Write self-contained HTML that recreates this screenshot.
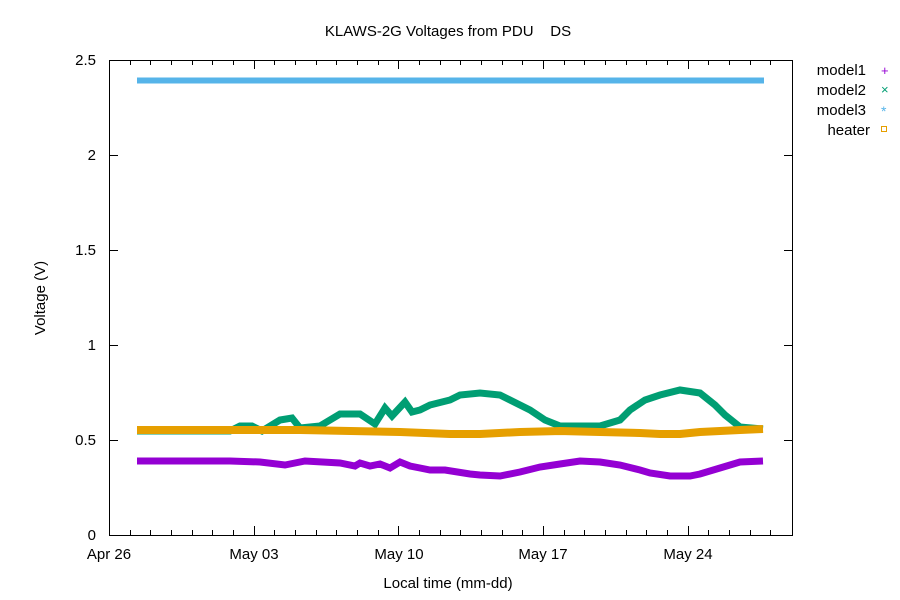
<!DOCTYPE html>
<html><head><style>body{margin:0;background:#fff}svg{display:block;font-family:"Liberation Sans",sans-serif}</style></head><body>
<svg width="900" height="600" viewBox="0 0 900 600">
<rect x="109.5" y="60.5" width="683" height="475" fill="none" stroke="#000"/>
<g stroke="#000">
<line x1="109" y1="535.5" x2="118" y2="535.5"/><line x1="109" y1="440.5" x2="118" y2="440.5"/><line x1="109" y1="345.5" x2="118" y2="345.5"/><line x1="109" y1="250.5" x2="118" y2="250.5"/><line x1="109" y1="155.5" x2="118" y2="155.5"/><line x1="109" y1="60.5" x2="118" y2="60.5"/>
<line x1="784" y1="440.5" x2="793" y2="440.5"/><line x1="784" y1="345.5" x2="793" y2="345.5"/><line x1="784" y1="250.5" x2="793" y2="250.5"/><line x1="784" y1="155.5" x2="793" y2="155.5"/>
<path d="M130.5 535v-5M150.5 535v-5M171.5 535v-5M192.5 535v-5M212.5 535v-5M233.5 535v-5M254.5 535v-9M274.5 535v-5M295.5 535v-5M316.5 535v-5M336.5 535v-5M357.5 535v-5M378.5 535v-5M398.5 535v-9M419.5 535v-5M440.5 535v-5M460.5 535v-5M481.5 535v-5M502.5 535v-5M522.5 535v-5M543.5 535v-9M564.5 535v-5M584.5 535v-5M605.5 535v-5M626.5 535v-5M646.5 535v-5M667.5 535v-5M688.5 535v-9M708.5 535v-5M729.5 535v-5M750.5 535v-5M770.5 535v-5
M130.5 60v5M150.5 60v5M171.5 60v5M192.5 60v5M212.5 60v5M233.5 60v5M254.5 60v9M274.5 60v5M295.5 60v5M316.5 60v5M336.5 60v5M357.5 60v5M378.5 60v5M398.5 60v9M419.5 60v5M440.5 60v5M460.5 60v5M481.5 60v5M502.5 60v5M522.5 60v5M543.5 60v9M564.5 60v5M584.5 60v5M605.5 60v5M626.5 60v5M646.5 60v5M667.5 60v5M688.5 60v9M708.5 60v5M729.5 60v5M750.5 60v5M770.5 60v5"/>
</g>
<g font-size="15" text-anchor="end" fill="#000">
<text x="96" y="540">0</text><text x="96" y="445">0.5</text><text x="96" y="350">1</text><text x="96" y="255">1.5</text><text x="96" y="160">2</text><text x="96" y="65">2.5</text>
</g>
<g font-size="15" text-anchor="middle">
<text x="109" y="559">Apr 26</text><text x="254" y="559">May 03</text><text x="399" y="559">May 10</text><text x="543" y="559">May 17</text><text x="688" y="559">May 24</text>
<text x="448" y="588">Local time (mm-dd)</text>
<text x="448" y="36" style="white-space:pre">KLAWS-2G Voltages from PDU    DS</text>
<text x="45" y="298" transform="rotate(-90 45 298)">Voltage (V)</text>
</g>
<polyline fill="none" stroke="#009e73" stroke-width="7" points="137,431 230,431 240,426 252,426 262,431 280,420 292,418 300,428 320,426 340,414 360,414 375,424 385,408 392,416 405,402 412,412 420,410 430,405 450,400 460,395 480,393 500,395 510,400 530,410 545,420 560,426 600,426 620,420 630,410 645,400 660,395 680,390 700,393 715,405 725,415 740,427 763,429"/>
<polyline fill="none" stroke="#e69f00" stroke-width="8" points="137,430 300,430 400,432 450,434 480,434 520,432 560,431 600,432 640,433 660,434 680,434 700,432 740,430 763,429"/>
<polyline fill="none" stroke="#9400d3" stroke-width="7" points="137,461 230,461 260,462 285,465 290,464 305,461 340,463 355,466 360,463 370,466 380,464 390,468 400,462 410,466 420,468 430,470 445,470 470,474 480,475 500,476 520,472 540,467 560,464 580,461 600,462 620,465 640,470 650,473 670,476 690,476 700,474 720,468 740,462 763,461"/>
<line x1="137" y1="80.5" x2="764" y2="80.5" stroke="#56b4e9" stroke-width="6"/>
<g font-size="15" text-anchor="end">
<text x="866" y="75">model1</text><text x="866" y="95">model2</text><text x="866" y="115">model3</text><text x="870" y="135">heater</text>
</g>
<text x="881" y="75" font-size="13" fill="#9400d3">+</text>
<text x="881" y="94" font-size="13" fill="#009e73">×</text>
<text x="881" y="116" font-size="14" fill="#56b4e9">*</text>
<rect x="881.5" y="126.5" width="5" height="5" fill="none" stroke="#e69f00"/>
</svg>
</body></html>
